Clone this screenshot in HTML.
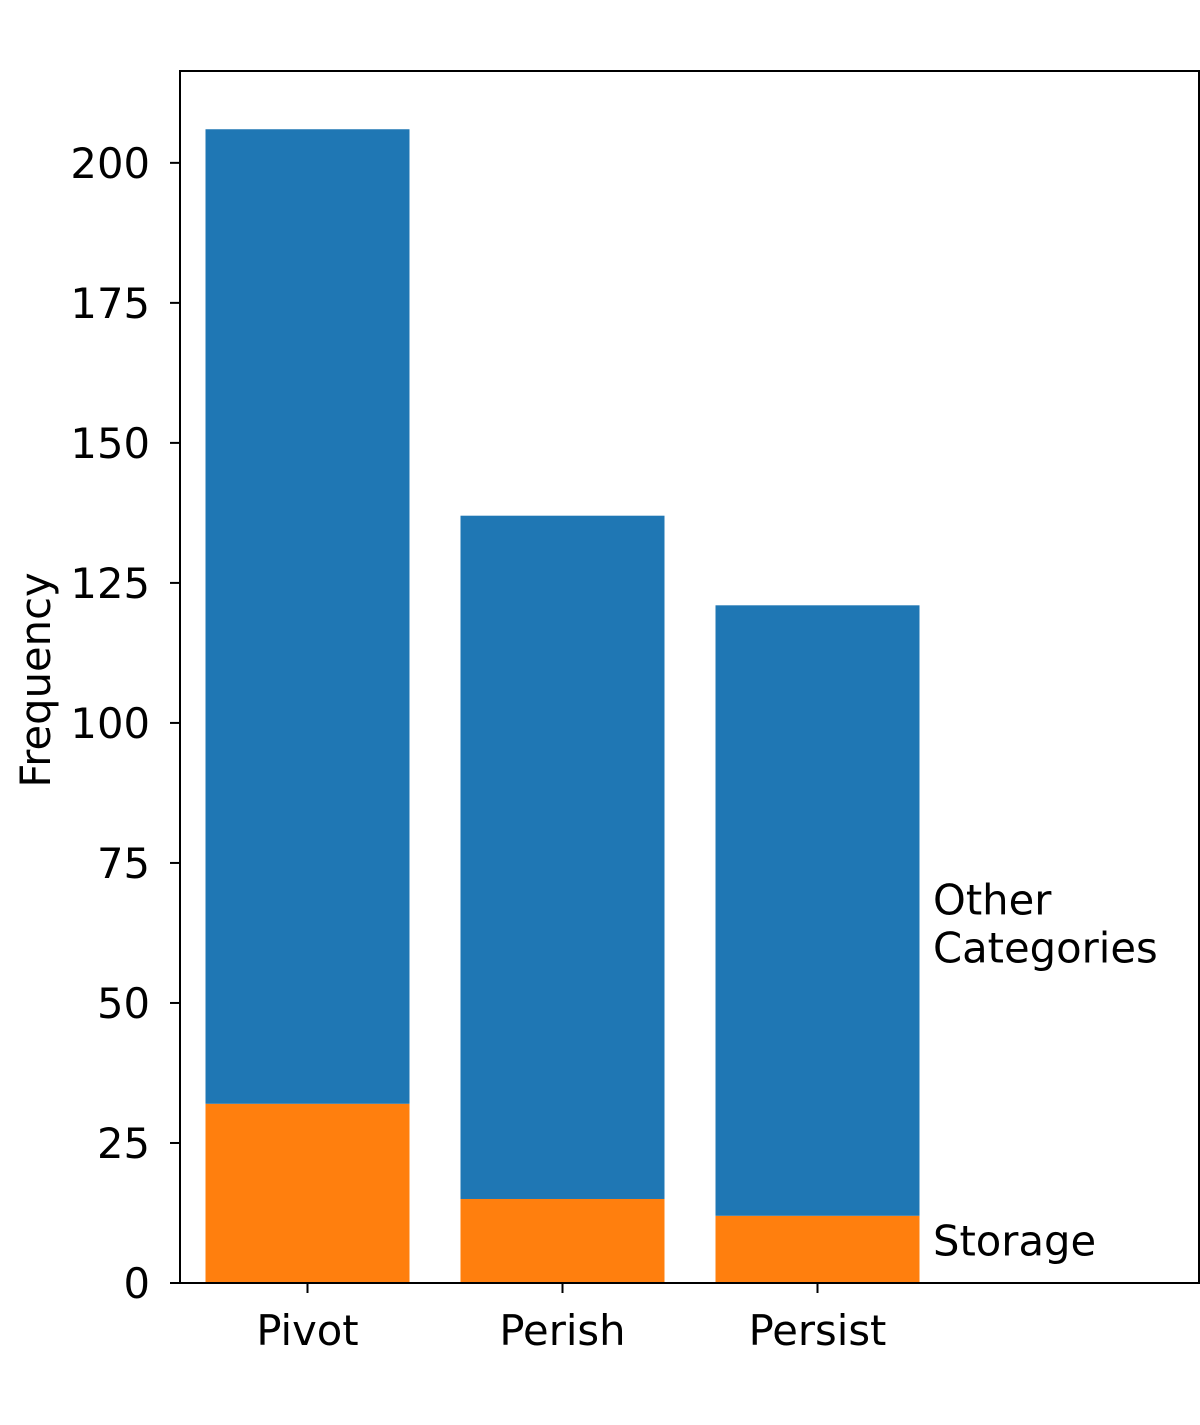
<!DOCTYPE html>
<html><head><meta charset="utf-8"><style>body{margin:0;background:#fff}svg{display:block}text{font-family:"DejaVu Sans","Liberation Sans",sans-serif;fill:#000}</style></head>
<body>
<svg id="chart" width="1200" height="1425" viewBox="0 0 1200 1425"></svg>
<script>
const categories = ["Pivot","Perish","Persist"];
const storage = [32,15,12];
const other = [174,122,109];
const yTicks = [0,25,50,75,100,125,150,175,200];
const seriesLabels = ["Storage","Other Categories"];

const svg = document.getElementById('chart');
const NS = "http://www.w3.org/2000/svg";
const L=180,R=1200,T=71,B=1283;
const yMin=0,yMax=216.4,xMin=-0.5,xMax=3.5;
const FS=41.7;
const y = v => B - (v-yMin)/(yMax-yMin)*(B-T);
const x = i => L + (i-xMin)/(xMax-xMin)*(R-L);
const bw = 0.8*(R-L)/(xMax-xMin);
function mk(tag, attrs, txt){const e=document.createElementNS(NS,tag);for(const k in attrs)e.setAttribute(k,attrs[k]);if(txt!=null)e.textContent=txt;svg.appendChild(e);return e;}

categories.forEach((c,i)=>{
  const s=mk('rect',{x:x(i)-bw/2,y:y(storage[i]),width:bw,height:y(0)-y(storage[i]),fill:'#ff7f0e'});
  
  
  const o=mk('rect',{x:x(i)-bw/2,y:y(storage[i]+other[i]),width:bw,height:y(storage[i])-y(storage[i]+other[i]),fill:'#1f77b4'});
  
  
  const t=mk('line',{x1:x(i),x2:x(i),y1:B,y2:B+10,stroke:'#000','stroke-width':2});
  
  
  const l=mk('text',{x:x(i),y:1345,'text-anchor':'middle','font-size':FS},c);
  
  
});
yTicks.forEach(v=>{
  const t=mk('line',{x1:L-10,x2:L,y1:y(v),y2:y(v),stroke:'#000','stroke-width':2});
  
  
  const l=mk('text',{x:L-30,y:y(v)+15,'text-anchor':'end','font-size':FS},String(v));
  
  
});
const frame=mk('rect',{x:L,y:T,width:R-L-1,height:B-T,fill:'none',stroke:'#000','stroke-width':2});


const yl=mk('text',{x:0,y:0,transform:'translate(50,680) rotate(-90)','text-anchor':'middle','font-size':FS},'Frequency');


const last=categories.length-1;
const sl=mk('text',{x:933,y:(y(0)+y(storage[last]))/2+15-9,'font-size':FS},seriesLabels[0]);


const oy=y(storage[last]+other[last]/2)+28;
const ol=mk('text',{x:933,y:oy-24,'font-size':FS},'Other');


const ol2=mk('text',{x:933,y:oy+24,'font-size':FS},'Categories');


</script>
</body></html>
